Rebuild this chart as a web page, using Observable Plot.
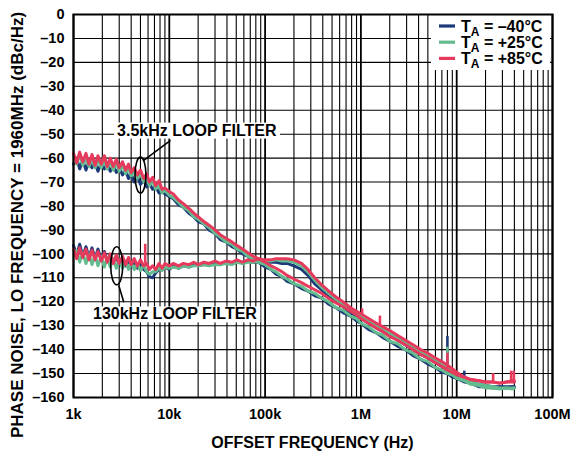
<!DOCTYPE html>
<html><head><meta charset="utf-8">
<script src="https://cdn.jsdelivr.net/npm/d3@7"></script>
<script src="https://cdn.jsdelivr.net/npm/@observablehq/plot@0.6"></script>
<style>
body{margin:0;background:#fff}
#chart svg{font-family:"Liberation Sans",Arial,sans-serif;font-weight:bold}
</style>
</head><body><div id="chart"></div>
<script>
// ---- data ----
const freq = [1000,1080,1160,1250,1350,1450,1560,1680,1800,1950,
 2100,2250,2420,2600,2800,3000,3250,3500,3750,4000,
 4300,4650,5000,5400,5800,6200,6700,7200,7800,8400,
 9000,10000,11000,12500,14000,16000,18000,20000,23000,26000,
 30000,34000,39000,45000,51000,58000,66000,75000,85000,100000,
 115000,130000,150000,170000,200000,240000,280000,330000,390000,460000,
 550000,650000,780000,900000,1000000,1200000,1450000,1700000,2000000,2400000,
 2900000,3500000,4200000,5000000,6000000,7000000,8000000,9000000,10000000,12000000,
 14000000,17000000,20000000,24000000,28000000,33000000,38000000,40000000];

// 3.5kHz loop filter
const blue35 = [-62.5,-60,-64.5,-61,-65,-61.5,-64,-62,-65.5,-62,
 -64.5,-62.5,-65.5,-63,-66,-64,-67,-65,-68.5,-66.5,
 -70,-67.5,-71,-69,-72,-70.5,-73,-72,-74.5,-73.5,
 -75,-76,-77,-79.5,-80.5,-83,-84.5,-86.5,-87.5,-90,
 -91.5,-94,-95,-97,-98,-100,-101,-103,-103.5,-105.5,
 -106.5,-108.5,-109.5,-111.5,-112.5,-114.5,-115.5,-117.5,-118.5,-121,
 -122.5,-124.5,-126,-128,-129,-131.5,-133,-135,-136.5,-138.5,
 -140,-142.5,-144,-146,-147.5,-149.5,-150,-151.5,-152,-153.5,
 -154,-155.5,-155.5,-156,-155.5,-156,-155.5,-155.5];
const green35 = [-59.5,-62.5,-58.5,-63,-60,-63.5,-60.5,-64,-60.5,-64,
 -61,-64.5,-61.5,-65,-62,-65.5,-63,-66.5,-64,-67.5,
 -65,-68.5,-66.5,-70,-68,-71.5,-69.5,-73,-71.5,-74.5,
 -73.5,-75.5,-76.5,-78.5,-80.5,-82,-84.5,-85.5,-87.5,-89,
 -91.5,-93,-95,-96,-98,-99,-101,-102,-103.5,-104.5,
 -106.5,-107.5,-109.5,-110.5,-112.5,-113.5,-115.5,-116.5,-118.5,-120,
 -122.5,-123.5,-126,-127,-129,-130.5,-133,-134,-136.5,-137.5,
 -140,-141.5,-144,-145,-147.5,-148.5,-150,-150.5,-152,-153,
 -154.5,-155,-156,-156,-156.5,-156,-156.5,-156];
const red35 = [-58,-62,-57.5,-61.5,-58,-62.5,-58.5,-63,-59,-62.5,
 -59,-63.5,-60,-63.5,-60.5,-64,-61.5,-65,-62.5,-66,
 -64,-67,-65,-68.5,-66.5,-70,-68,-71.5,-69.5,-73,
 -72.5,-74,-75,-77.5,-79,-81,-83,-84.5,-86.5,-88,
 -90,-92,-93.5,-95,-96.5,-98,-99.5,-101,-102,-103.5,
 -105,-106,-107.5,-109,-110.5,-112,-113.5,-115,-116.5,-118.5,
 -120.5,-122,-124,-125.5,-127,-129,-131,-132.5,-134.5,-136,
 -138,-140,-142,-143.5,-145.5,-147,-148.5,-149.5,-150.5,-151.5,
 -152.5,-153,-153.5,-153.5,-154,-153.5,-153.5,-153.5];

// 130kHz loop filter
const blue130 = [-96.5,-100.5,-96,-101,-97,-101.5,-97.5,-102,-98,-102.5,
 -99,-103,-100.5,-103.5,-101,-104.5,-102,-105,-102.5,-105.5,
 -103,-106,-104,-106.5,-107.5,-109.5,-110,-108,-106.5,-106.5,
 -105.5,-106.5,-105,-106,-105,-105.5,-104.5,-105,-104.5,-104.5,
 -104,-104.5,-103.5,-104,-103.5,-103.5,-103,-103.5,-103,-103.5,
 -103.5,-103.5,-104,-104,-105,-106.5,-109,-112.5,-115,-117.5,
 -120,-122,-124.5,-126,-127,-129,-131,-132.5,-134,-136,
 -138,-140,-142,-143.5,-145.5,-147,-148.5,-150,-151,-152.5,
 -153.5,-154.5,-155,-155.5,-155.5,-155.5,-155.5,-155.5];
const green130 = [-102,-98.5,-103.5,-99.5,-104,-100,-104.5,-100.5,-105,-101,
 -105.5,-101.5,-105.5,-102,-106,-102.5,-106,-103,-106.5,-103.5,
 -106.5,-104,-107,-104.5,-107.5,-108.5,-107.5,-107.5,-106,-107,
 -105.5,-106,-105.5,-106,-105,-105.5,-105,-105,-104.5,-105,
 -104.5,-104.5,-104,-104.5,-103.5,-104,-103.5,-103.5,-103,-103,
 -103,-102.5,-103,-103,-103.5,-105,-107.5,-111,-114,-116.5,
 -119,-121,-123.5,-125,-126,-128,-130,-131.5,-133,-135,
 -137,-139,-141,-142.5,-144.5,-146,-147.5,-149,-150.5,-152.5,
 -153.5,-154.5,-155,-155.5,-156,-156,-156,-156];
const red130 = [-98,-102,-97.5,-101.5,-98,-102.5,-98.5,-102.5,-99,-103,
 -99.5,-103.5,-100,-104,-100.5,-104,-101,-104.5,-101.5,-104.5,
 -102,-105,-102.5,-105,-104,-106.5,-105,-106.5,-104,-106,
 -104,-105,-104,-105,-104,-104.5,-103.5,-104.5,-103.5,-104,
 -103,-104,-103,-103.5,-102.5,-103.5,-102.5,-103,-102,-102.5,
 -102.5,-102,-102,-102,-102.5,-104,-106.5,-110,-113,-115.5,
 -118,-120,-122.5,-124,-125,-127,-129,-130.5,-132,-134,
 -136,-138,-140,-141.5,-143.5,-145,-146.5,-148,-149.5,-151.5,
 -152.5,-153,-153.5,-153.5,-154,-153.5,-153,-153];

// narrow spurs
const spikeFreq = [5600,1030000,1580000,8000000,8000000,8000000,12000000,24000000,37000000,39500000];
const spikeTop  = [-96,-123,-126,-134.5,-139,-141.5,-149,-150,-149,-149];
const spikeBase = [-104,-125.5,-129.5,-150,-150,-148,-153.5,-153.5,-153.5,-153.5];
const spikeTemp = [2,2,2,0,1,2,0,2,2,2];

const tempLabels = ["–40°C","+25°C","+85°C"];
const colors = ["#1c3a7a","#64bc8e","#e63a5c"];

const xTicks = [1e3,1e4,1e5,1e6,1e7,1e8];
const xTickLabels = ["1k","10k","100k","1M","10M","100M"];
const yTicks = [0,-10,-20,-30,-40,-50,-60,-70,-80,-90,-100,-110,-120,-130,-140,-150,-160];
const yTickLabels = ["0","–10","–20","–30","–40","–50","–60","–70","–80","–90","–100","–110","–120","–130","–140","–150","–160"];

// annotations (data coordinates)
const annLabels = ["3.5kHz LOOP FILTER","130kHz LOOP FILTER"];
const annF = [19600, 11600];
const annV = [-48.5, -125.3];
const ellF = [5060, 2860];
const ellV = [-67.3, -105.2];
const leadF1 = [5370, 2970], leadV1 = [-61, -113.2];
const leadF2 = [10300, 3350], leadV2 = [-52.6, -120.2];

// ---- build ----
const seriesVals = [[blue35, blue130],[green35, green130],[red35, red130]];
const lineMarks = [];
seriesVals.forEach((pair, ti) => {
  pair.forEach(vals => {
    const rows = freq.map((f, i) => ({f, v: vals[i]}));
    lineMarks.push(Plot.line(rows, {x: "f", y: "v", stroke: colors[ti], strokeWidth: 3, curve: "linear"}));
  });
  const sp = spikeFreq.map((f, i) => ({f, top: spikeTop[i], base: spikeBase[i], t: spikeTemp[i]})).filter(d => d.t === ti);
  lineMarks.push(Plot.ruleX(sp, {x: "f", y1: "base", y2: "top", stroke: colors[ti], strokeWidth: 2.6}));
});

const gridMinor = [], gridMajor = [];
for (let e = 3; e <= 8; e++) {
  for (let m = 1; m <= 9; m++) {
    const v = m * Math.pow(10, e);
    if (v > 1e8) break;
    (m === 1 ? gridMajor : gridMinor).push(v);
  }
}

const W = 573, H = 455, ML = 73, MR = 21, MT = 14, MB = 58;
const plot = Plot.plot({
  width: W, height: H,
  marginLeft: ML, marginRight: MR, marginTop: MT, marginBottom: MB,
  style: {fontFamily: '"Liberation Sans", Arial, sans-serif', fontSize: "14.5px", fontWeight: "bold", color: "black", background: "white"},
  x: {type: "log", domain: [1e3, 1e8]},
  y: {domain: [-160, 0]},
  marks: [
    Plot.ruleX(gridMinor, {stroke: "black", strokeWidth: 1.1}),
    Plot.ruleX(gridMajor, {stroke: "black", strokeWidth: 1.8}),
    Plot.ruleY(yTicks, {stroke: "black", strokeWidth: 1.1}),
    ...lineMarks,
    Plot.link([0, 1], {x1: i => leadF1[i], y1: i => leadV1[i], x2: i => leadF2[i], y2: i => leadV2[i], stroke: "black", strokeWidth: 1.6}),
    Plot.axisX({ticks: xTicks, tickFormat: d => xTickLabels[xTicks.indexOf(d)], tickSize: 0, tickPadding: 11, label: null, fill: "black"}),
    Plot.axisY({ticks: yTicks, tickFormat: d => yTickLabels[yTicks.indexOf(d)], tickSize: 0, tickPadding: 9, label: null, fill: "black"}),
    Plot.frame({stroke: "black", strokeWidth: 2})
  ]
});
document.getElementById("chart").appendChild(plot);

const sx = plot.scale("x"), sy = plot.scale("y");
const svg = d3.select(plot);
const frameNode = svg.select('[aria-label="frame"]').node();

// ellipses
const ov = svg.insert("g", () => frameNode).attr("text-anchor", "start");
ellF.forEach((f, i) => {
  ov.append("ellipse").attr("cx", sx.apply(f)).attr("cy", sy.apply(ellV[i]))
    .attr("rx", i === 0 ? 5.5 : 6).attr("ry", i === 0 ? 18 : 19)
    .attr("fill", "none").attr("stroke", "black").attr("stroke-width", 1.6);
});
// annotation labels with white boxes
annLabels.forEach((t, i) => {
  const cx = sx.apply(annF[i]), cy = sy.apply(annV[i]);
  const rect = ov.append("rect").attr("fill", "white").attr("stroke", "none");
  const tx = ov.append("text").attr("x", cx).attr("y", cy).attr("text-anchor", "middle")
    .attr("dominant-baseline", "central").attr("font-size", 16).attr("font-weight", "bold").attr("fill", "black").text(t);
  const bb = tx.node().getBBox();
  rect.attr("x", bb.x - 3).attr("y", bb.y + 1).attr("width", bb.width + 6).attr("height", bb.height - 1);
});
// legend
const lg = svg.insert("g", () => frameNode).attr("text-anchor", "start");
lg.append("rect").attr("x", 431).attr("y", 15).attr("width", 119).attr("height", 55).attr("fill", "white").attr("stroke", "none");
tempLabels.forEach((t, i) => {
  const yy = 26 + i * 16.2;
  lg.append("line").attr("x1", 439).attr("x2", 455).attr("y1", yy).attr("y2", yy)
    .attr("stroke", colors[i]).attr("stroke-width", 3.2);
  const tx = lg.append("text").attr("x", 461).attr("y", yy + 5.5).attr("text-anchor", "start")
    .attr("font-size", 16).attr("font-weight", "bold").attr("fill", "black");
  tx.append("tspan").text("T");
  tx.append("tspan").attr("font-size", 12).attr("dy", 4).text("A");
  tx.append("tspan").attr("dy", -4).text(" = " + t);
});
// axis titles
svg.append("text").attr("x", (ML + W - MR) / 2).attr("y", 448).attr("text-anchor", "middle")
  .attr("font-size", 16).attr("font-weight", "bold").attr("fill", "black").text("OFFSET FREQUENCY (Hz)");
svg.append("text").attr("transform", "translate(23,225) rotate(-90)").attr("text-anchor", "middle")
  .attr("font-size", 17).attr("font-weight", "bold").attr("fill", "black").text("PHASE NOISE, LO FREQUENCY = 1960MHz (dBc/Hz)");
</script>
</body></html>
